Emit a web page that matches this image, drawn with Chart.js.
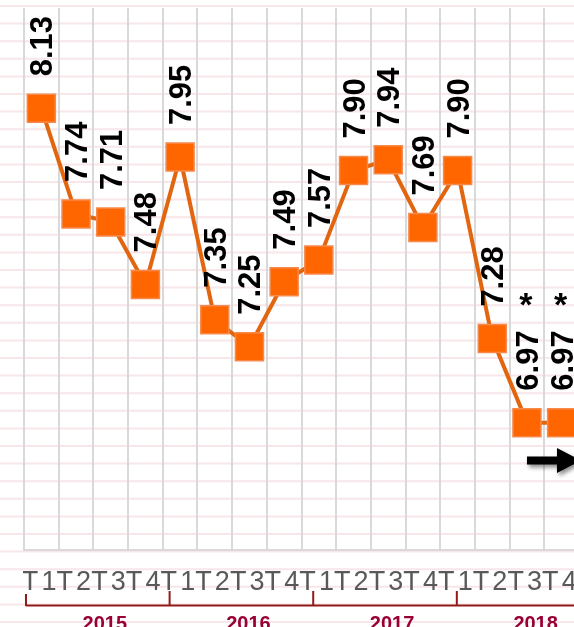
<!DOCTYPE html>
<html>
<head>
<meta charset="utf-8">
<script src="https://cdn.jsdelivr.net/npm/chart.js@4"></script>
<style>
  html, body { margin: 0; padding: 0; overflow: hidden; background: #ffffff; }
  #wrap { position: relative; width: 600px; height: 627px; }
</style>
</head>
<body>
<div id="wrap"><canvas id="c" width="600" height="627"></canvas></div>
<script>
// ---- data ----
const values = [8.13, 7.74, 7.71, 7.48, 7.95, 7.35, 7.25, 7.49, 7.57, 7.90, 7.94, 7.69, 7.90, 7.28, 6.97, 6.97];
const categories = ["1T", "2T", "3T", "4T", "1T", "2T", "3T", "4T", "1T", "2T", "3T", "4T", "1T", "2T", "3T", "4T"];
const tickLabels = ["4T", "1T", "2T", "3T", "4T", "1T", "2T", "3T", "4T", "1T", "2T", "3T", "4T", "1T", "2T", "3T", "4T"];
const years = ["2015", "2016", "2017", "2018"];
const notes = ["", "", "", "", "", "", "", "", "", "", "", "", "", "", "*", "*"];

const FONT = '"Liberation Sans", Arial, sans-serif';

const decor = {
  id: 'decor',
  beforeDraw(chart) {
    const ctx = chart.ctx;
    ctx.save();
    ctx.strokeStyle = '#f8e6e9';
    ctx.lineWidth = 2;
    for (let y = 6; y < chart.height; y += 17.6) {
      ctx.beginPath();
      ctx.moveTo(0, y);
      ctx.lineTo(chart.width, y);
      ctx.stroke();
    }
    ctx.restore();
  },
  afterDatasetsDraw(chart) {
    const ctx = chart.ctx;
    const meta = chart.getDatasetMeta(0);
    const xs = chart.scales.x;
    const ys = chart.scales.y;
    const area = chart.chartArea;

    // value labels (rotated)
    ctx.save();
    ctx.font = 'bold 31px ' + FONT;
    ctx.fillStyle = '#000000';
    meta.data.forEach((pt, i) => {
      const txt = values[i].toFixed(2);
      const w = ctx.measureText(txt).width;
      ctx.save();
      ctx.translate(pt.x + 11, pt.y - 32);
      ctx.rotate(-Math.PI / 2);
      ctx.textAlign = 'left';
      ctx.textBaseline = 'alphabetic';
      ctx.fillText(txt, 0, 0);
      ctx.restore();
      if (notes[i]) {
        ctx.save();
        ctx.font = 'bold 34px ' + FONT;
        ctx.textAlign = 'center';
        ctx.textBaseline = 'alphabetic';
        ctx.fillText(notes[i], pt.x - 1, pt.y - 32 - w - 14);
        ctx.restore();
      }
    });
    ctx.restore();

    // arrow annotation
    ctx.save();
    const ax = xs.getPixelForValue(14);
    const ay = ys.getPixelForValue(6.83);
    ctx.shadowColor = 'rgba(0,0,0,0.45)';
    ctx.shadowBlur = 4;
    ctx.shadowOffsetX = 2;
    ctx.shadowOffsetY = 3;
    ctx.fillStyle = '#000000';
    ctx.beginPath();
    ctx.moveTo(ax, ay - 4);
    ctx.lineTo(ax + 30, ay - 4);
    ctx.lineTo(ax + 30, ay - 12.5);
    ctx.lineTo(ax + 54, ay);
    ctx.lineTo(ax + 30, ay + 12.5);
    ctx.lineTo(ax + 30, ay + 4);
    ctx.lineTo(ax, ay + 4);
    ctx.closePath();
    ctx.fill();
    ctx.restore();

    // category tick labels at category boundaries
    ctx.save();
    ctx.beginPath();
    ctx.rect(area.left - 1, 0, chart.width, chart.height);
    ctx.clip();
    ctx.font = '27px ' + FONT;
    ctx.fillStyle = '#595959';
    ctx.textAlign = 'center';
    ctx.textBaseline = 'alphabetic';
    tickLabels.forEach((lab, i) => {
      const x = xs.getPixelForValue(i - 0.5) - 1.5;
      ctx.fillText(lab, x, 590);
    });
    ctx.restore();

    // year brackets
    ctx.save();
    const catW = xs.getPixelForValue(1) - xs.getPixelForValue(0);
    const edge = k => area.left + 4 * k * catW * 1.035 + 2;
    ctx.strokeStyle = '#931a1a';
    ctx.lineWidth = 2;
    ctx.beginPath();
    ctx.moveTo(edge(0), 605.5);
    ctx.lineTo(chart.width, 605.5);
    for (let k = 0; k < years.length; k++) {
      const top = k === 0 ? 594 : 591;
      ctx.moveTo(edge(k), top);
      ctx.lineTo(edge(k), 606);
    }
    ctx.stroke();
    ctx.font = 'bold 20px ' + FONT;
    ctx.fillStyle = '#990033';
    ctx.textAlign = 'center';
    ctx.textBaseline = 'alphabetic';
    years.forEach((y, k) => {
      const cx = (edge(k) + edge(k + 1)) / 2 + 7;
      ctx.fillText(y, cx, 629.5);
    });
    ctx.restore();
  }
};

new Chart(document.getElementById('c'), {
  type: 'line',
  data: {
    labels: categories,
    datasets: [{
      data: values,
      borderColor: '#E2650F',
      borderWidth: 4,
      tension: 0,
      pointStyle: 'rect',
      pointRadius: 19.8,
      pointHoverRadius: 19.8,
      pointBackgroundColor: '#FF6600',
      pointBorderColor: '#F58A4C',
      pointBorderWidth: 1.5,
      clip: false
    }]
  },
  options: {
    responsive: false,
    animation: false,
    events: [],
    layout: { autoPadding: false, padding: { left: 24, top: 8, right: 21, bottom: 77 } },
    plugins: { legend: { display: false }, tooltip: { enabled: false } },
    scales: {
      x: {
        type: 'category',
        offset: true,
        grid: { offset: true, color: '#d9d9d9', lineWidth: 2, drawTicks: false },
        border: { color: '#d9d9d9', width: 2 },
        ticks: { display: false }
      },
      y: { display: false, min: 6.5, max: 8.5 }
    }
  },
  plugins: [decor]
});
</script>
</body>
</html>
